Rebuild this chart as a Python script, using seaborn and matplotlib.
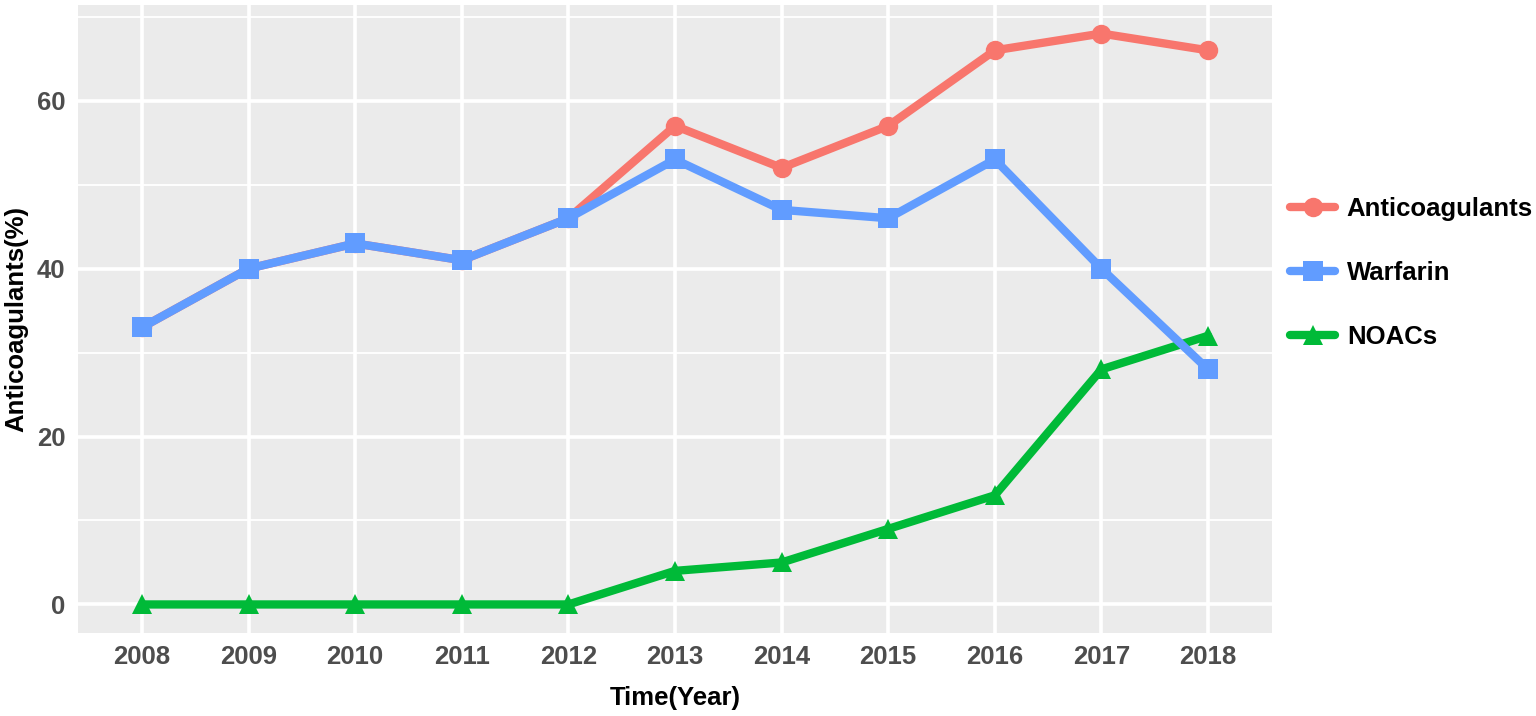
import pandas as pd
import seaborn as sns
import matplotlib.pyplot as plt
from matplotlib.lines import Line2D

years = ["2008", "2009", "2010", "2011", "2012", "2013", "2014", "2015", "2016", "2017", "2018"]
anticoagulants = [33, 40, 43, 41, 46, 57, 52, 57, 66, 68, 66]
warfarin = [33, 40, 43, 41, 46, 53, 47, 46, 53, 40, 28]
noacs = [0, 0, 0, 0, 0, 4, 5, 9, 13, 28, 32]

series = ["Anticoagulants", "Warfarin", "NOACs"]
colors = {"Anticoagulants": "#F8766D", "Warfarin": "#619CFF", "NOACs": "#00BA38"}
markers = {"Anticoagulants": "o", "Warfarin": "s", "NOACs": "^"}

df = pd.DataFrame({
    "Year": years * 3,
    "Value": anticoagulants + warfarin + noacs,
    "Drug": ["Anticoagulants"] * 11 + ["Warfarin"] * 11 + ["NOACs"] * 11,
})
df["x"] = df["Year"].map({y: i for i, y in enumerate(years)})

sns.set_style("darkgrid", {"axes.facecolor": "#EBEBEB", "grid.color": "white"})
plt.rcParams["font.family"] = ["Liberation Sans", "DejaVu Sans"]

fig = plt.figure(figsize=(15.36, 7.16), dpi=100)
ax = fig.add_axes([78 / 1536, 1 - 633 / 716, (1272 - 78) / 1536, (633 - 5) / 716])

# blue line sits on top of the others
draw_order = ["Anticoagulants", "NOACs", "Warfarin"]
sns.lineplot(data=df, x="x", y="Value", hue="Drug", style="Drug",
             hue_order=draw_order, style_order=draw_order,
             palette=colors, markers=markers, dashes=False,
             linewidth=6, markersize=14, markeredgewidth=0,
             legend=False, ax=ax)

ax.set_xlim(-0.6, 10.6)
ax.set_ylim(-3.4, 71.4)
ax.set_xticks(range(len(years)))
ax.set_xticklabels(years)
ax.set_yticks([0, 20, 40, 60])
ax.set_yticks([10, 30, 50, 70], minor=True)
ax.grid(which="major", color="white", linewidth=2.6)
ax.grid(which="minor", axis="y", color="white", linewidth=1.3)
ax.set_axisbelow(True)
for s in ax.spines.values():
    s.set_visible(False)

ax.tick_params(axis="both", which="major", length=4, width=1.5, color="#333333",
               labelsize=18.5, labelcolor="#4D4D4D", pad=5)
ax.tick_params(axis="both", which="minor", length=0)
for lab in ax.get_xticklabels() + ax.get_yticklabels():
    lab.set_fontweight("bold")

ax.set_xlabel("Time(Year)", fontsize=18.5, fontweight="bold", color="black", labelpad=12)
ax.set_ylabel("Anticoagulants(%)", fontsize=18.5, fontweight="bold", color="black", labelpad=6)

handles = [Line2D([], [], color=colors[s], marker=markers[s], linewidth=6,
                  markersize=14, markeredgewidth=0) for s in series]
leg = fig.legend(handles, series, loc="center left", bbox_to_anchor=(1280 / 1536, 1 - 273 / 716),
                 frameon=False, handlelength=1.75, labelspacing=1.55, handletextpad=0.45,
                 borderaxespad=0, prop={"size": 18.5, "weight": "bold"})
for t in leg.get_texts():
    t.set_color("black")

fig.savefig("out.png", dpi=100)
